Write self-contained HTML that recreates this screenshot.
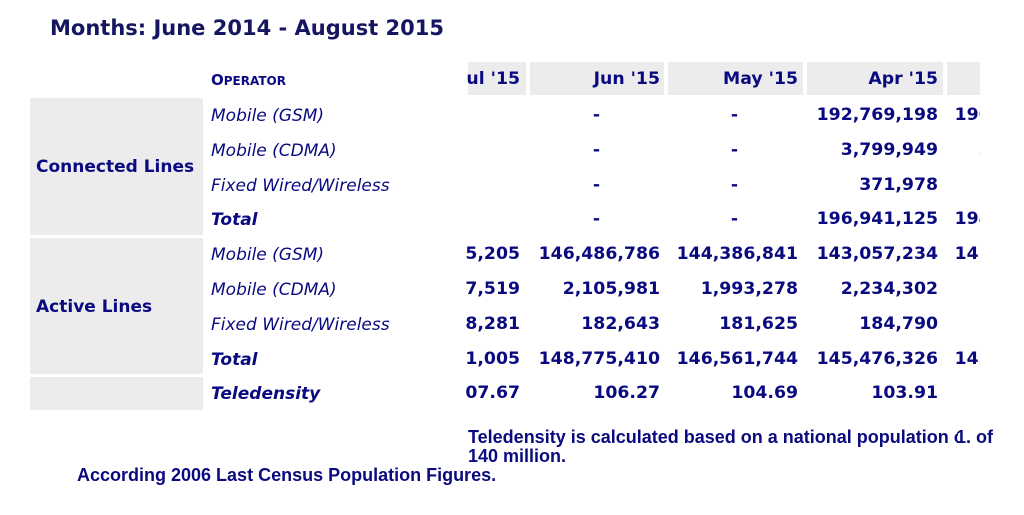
<!DOCTYPE html>
<html><head><meta charset="utf-8"><style>
body{margin:0;width:1024px;height:515px;background:#fff;position:relative;overflow:hidden;font-family:"DejaVu Sans","Liberation Sans",sans-serif;color:#0a0a80}
.a{position:absolute;white-space:nowrap}
.g{position:absolute;background:#ececec}
.t{font-weight:bold;font-size:21px;color:#161660}
.lab{font-weight:bold;font-size:17px}
.op{font-style:italic;font-size:17px}
.num{font-weight:bold;font-size:17.3px;text-align:right}
.foot{font-family:"Liberation Sans",sans-serif;font-weight:bold;font-size:18px}
#clip{position:absolute;left:465px;top:0;width:515px;height:420px;overflow:hidden}
</style></head><body>
<div class="a t" style="left:50px;top:16px">Months: June 2014 - August 2015</div>
<div class="a" style="left:211px;top:71px;font-weight:bold;font-size:15px">O<span style="font-size:12px">PERATOR</span></div>
<div class="g" style="left:30px;top:98px;width:173px;height:137px"></div>
<div class="g" style="left:30px;top:238px;width:173px;height:136px"></div>
<div class="g" style="left:30px;top:377px;width:173px;height:33px"></div>
<div class="a lab" style="left:36px;top:157px">Connected Lines</div>
<div class="a lab" style="left:36px;top:297px">Active Lines</div>
<div id="rows"></div>
<div id="clip"></div>
<div class="a foot" style="left:468px;top:427px;width:490px;overflow:hidden">Teledensity is calculated based on a national population of</div>
<div class="a foot" style="left:956px;top:427px">1. of</div>
<div class="a foot" style="left:468px;top:446px">140 million.</div>
<div class="a foot" style="left:77px;top:465px">According 2006 Last Census Population Figures.</div>
<script>
const operators=["Mobile (GSM)","Mobile (CDMA)","Fixed Wired/Wireless","Total","Mobile (GSM)","Mobile (CDMA)","Fixed Wired/Wireless","Total","Teledensity"];
const months=["Jul '15","Jun '15","May '15","Apr '15","Mar '15"];
const jul=["","","","","147,555,205","2,147,519","178,281","149,881,005","107.67"];
const jun=["-","-","-","-","146,486,786","2,105,981","182,643","148,775,410","106.27"];
const may=["-","-","-","-","144,386,841","1,993,278","181,625","146,561,744","104.69"];
const apr=["192,769,198","3,799,949","371,978","196,941,125","143,057,234","2,234,302","184,790","145,476,326","103.91"];
const mar=["190,100,000","3,800,000","","194,300,000","142,100,000","2,200,000","","143,500,000",""];
const rowTop=106,rowH=34.8;
const rows=document.getElementById('rows');
operators.forEach((o,i)=>{const d=document.createElement('div');d.className='a op';
if(i==3||i==7||i==8){d.style.fontWeight='bold';}
d.style.left='211px';d.style.top=(rowTop+i*rowH)+'px';d.textContent=o;


rows.appendChild(d);});
const clip=document.getElementById('clip');
const cols=[jul,jun,may,apr,mar];
const cellL=[468,530,668,807,947],cellR=[526,664,803,943,1085],textR=[520,660,798,938,1076];
cols.forEach((c,j)=>{
const h=document.createElement('div');h.className='g';
h.style.left=(cellL[j]-465)+'px';h.style.top='62px';h.style.width=(cellR[j]-cellL[j])+'px';h.style.height='33px';


clip.appendChild(h);
const ht=document.createElement('div');ht.className='a num';
ht.style.right=(515-(textR[j]-465))+'px';ht.style.top='69px';ht.textContent=months[j];


clip.appendChild(ht);
c.forEach((v,i)=>{const d=document.createElement('div');d.className='a num';
d.style.right=(515-(textR[j]-465))+'px';if(v==='-'){d.style.right=(515-(textR[j]-465)+60)+'px';}
d.style.top=(rowTop+i*rowH-1)+'px';d.textContent=v;


clip.appendChild(d);});
});
</script>
</body></html>
